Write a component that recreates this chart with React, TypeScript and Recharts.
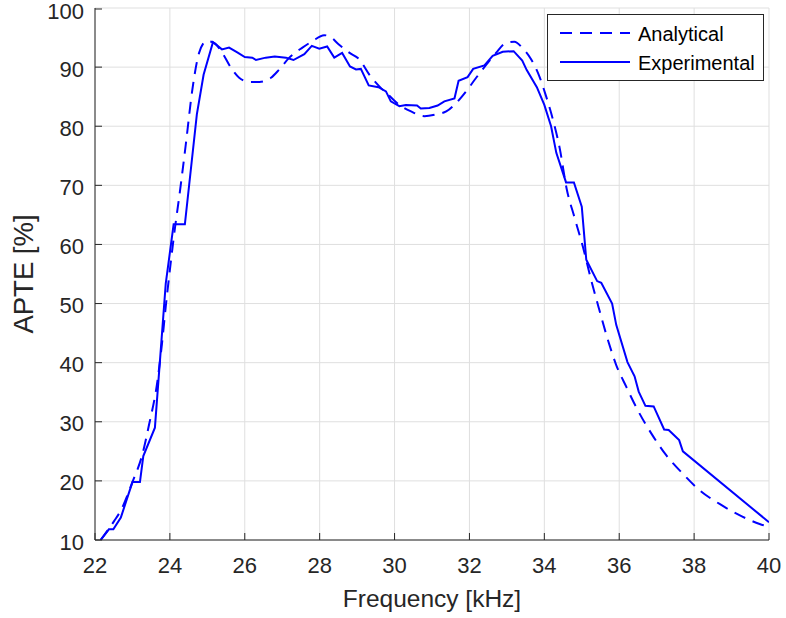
import React from 'react';
import {
  LineChart,
  Line,
  XAxis,
  YAxis,
  CartesianGrid,
  Legend,
} from 'recharts';

const xTicks = [22, 24, 26, 28, 30, 32, 34, 36, 38, 40];
const yTicks = [10, 20, 30, 40, 50, 60, 70, 80, 90, 100];

// analytical curve
const analyticalFreq = [
  22.15, 22.51, 22.69, 23.0, 23.27, 23.44, 23.67, 23.78, 23.89, 24.02, 24.14, 24.25,
  24.43, 24.6, 24.78, 24.98, 25.18, 25.4, 25.63, 25.85, 26.12, 26.39, 26.7, 26.92,
  27.19, 27.54, 27.81, 28.12, 28.26, 28.52, 28.8, 29.06, 29.33, 29.6, 29.87, 30.13,
  30.44, 30.8, 31.11, 31.38, 31.64, 31.91, 32.18, 32.45, 32.71, 32.98, 33.2, 33.42,
  33.65, 33.87, 34.05, 34.23, 34.41, 34.6, 34.8, 35.03, 35.25, 35.47, 35.7, 35.92,
  36.19, 36.5, 36.86, 37.26, 37.7, 38.15, 38.68, 39.21, 39.75, 40.0,
];
const analyticalApte = [
  10.0, 13.2, 15.0, 19.8, 24.6, 29.4, 37.0, 42.7, 49.5, 56.8, 63.0, 68.1,
  77.2, 86.2, 92.4, 94.4, 94.1, 92.4, 89.9, 88.2, 87.5, 87.5, 88.2, 89.6,
  91.6, 93.3, 94.4, 95.4, 95.2, 93.8, 92.4, 91.3, 88.7, 86.7, 85.1, 83.6,
  82.5, 81.7, 82.0, 82.5, 83.9, 85.9, 88.2, 90.4, 92.4, 94.1, 94.3, 93.2,
  91.3, 88.4, 85.0, 81.1, 76.3, 69.3, 64.7, 59.6, 54.0, 48.9, 43.8, 39.6,
  35.9, 31.9, 28.0, 24.3, 21.2, 18.4, 16.1, 14.2, 12.7, 12.2,
];

// measured curve
const experimentalFreq = [
  22.15, 22.37, 22.49, 22.69, 23.0, 23.2, 23.29, 23.6, 23.89, 24.1, 24.4, 24.72,
  24.9, 25.15, 25.39, 25.58, 25.8, 26.0, 26.2, 26.3, 26.56, 26.8, 27.1, 27.3,
  27.59, 27.79, 27.99, 28.2, 28.39, 28.6, 28.81, 28.97, 29.1, 29.31, 29.57, 29.77,
  29.9, 30.13, 30.3, 30.6, 30.7, 30.93, 31.15, 31.33, 31.6, 31.71, 31.95, 32.1,
  32.4, 32.62, 32.89, 33.18, 33.41, 33.53, 33.8, 34.0, 34.18, 34.32, 34.58, 34.79,
  35.0, 35.12, 35.41, 35.52, 35.81, 35.92, 36.22, 36.41, 36.52, 36.7, 36.92, 37.2,
  37.32, 37.6, 37.7, 40.0,
];
const experimentalApte = [
  10.0, 11.8, 11.8, 13.8, 19.8, 19.8, 24.2, 29.0, 53.4, 63.4, 63.4, 82.0,
  88.7, 94.2, 93.0, 93.3, 92.5, 91.7, 91.6, 91.2, 91.6, 91.8, 91.6, 91.2,
  92.2, 93.6, 93.1, 93.5, 91.6, 92.4, 90.1, 89.6, 89.7, 86.9, 86.6, 85.9,
  84.2, 83.4, 83.6, 83.5, 83.0, 83.1, 83.5, 84.2, 84.7, 87.7, 88.3, 89.7,
  90.3, 91.9, 92.6, 92.7, 91.1, 89.5, 86.6, 83.6, 80.0, 75.5, 70.5, 70.5,
  66.4, 57.4, 53.8, 53.5, 50.0, 46.4, 40.1, 37.7, 35.1, 32.7, 32.6, 28.7,
  28.6, 26.9, 25.0, 13.0,
];

const analyticalData = analyticalFreq.map((f, i) => ({ f, v: analyticalApte[i] }));
const experimentalData = experimentalFreq.map((f, i) => ({ f, v: experimentalApte[i] }));

const BLUE = '#0000ff';
const AXIS = '#262626';
const FONT = '"Liberation Sans", Arial, Helvetica, sans-serif';
const DASH = '12 8';

const BottomTick = ({ x, y, payload }: any) => (
  <g>
    <line x1={x} y1={y} x2={x} y2={y - 7} stroke={AXIS} />
    <text x={x} y={y + 33} textAnchor="middle" fontSize={22} fill={AXIS} fontFamily={FONT}>
      {payload.value}
    </text>
  </g>
);

const LeftTick = ({ x, y, payload }: any) => (
  <g>
    <line x1={x} y1={y} x2={x + 7} y2={y} stroke={AXIS} />
    <text x={x - 11} y={y + 9.5} textAnchor="end" fontSize={22} fill={AXIS} fontFamily={FONT}>
      {payload.value}
    </text>
  </g>
);

const TopTick = ({ x, y }: any) => <line x1={x} y1={y} x2={x} y2={y + 7} stroke={AXIS} />;
const RightTick = ({ x, y }: any) => <line x1={x} y1={y} x2={x - 7} y2={y} stroke={AXIS} />;

const LegendBox = () => (
  <svg width={217} height={67} style={{ display: 'block' }}>
    <rect x={0.5} y={0.5} width={216} height={66} fill="#fff" stroke={AXIS} />
    <line x1={13} y1={19} x2={83} y2={19} stroke={BLUE} strokeWidth={2} strokeDasharray={DASH} />
    <text x={91} y={27} fontSize={20} fill="#000" fontFamily={FONT}>Analytical</text>
    <line x1={13} y1={48} x2={83} y2={48} stroke={BLUE} strokeWidth={2} />
    <text x={91} y={56} fontSize={20} fill="#000" fontFamily={FONT}>Experimental</text>
  </svg>
);

export default function App() {
  return (
    <div style={{ position: 'absolute', left: 0, top: 0, background: '#fff' }}>
      <LineChart width={786} height={618} margin={{ top: 8, right: 17, left: 0, bottom: 0 }}>
        <CartesianGrid xAxisId="b" yAxisId="l" stroke="#dfdfdf" strokeWidth={1} />
        <XAxis
          xAxisId="b"
          dataKey="f"
          type="number"
          domain={[22, 40]}
          ticks={xTicks}
          allowDataOverflow
          height={78}
          tickSize={0}
          tickMargin={0}
          tickLine={false}
          axisLine={{ stroke: AXIS }}
          tick={<BottomTick />}
          label={{
            content: ({ viewBox }: any) => (
              <text
                x={viewBox.x + viewBox.width / 2}
                y={viewBox.y + 67}
                textAnchor="middle"
                fontSize={24.5}
                fill={AXIS}
                fontFamily={FONT}
              >
                Frequency [kHz]
              </text>
            ),
          }}
        />
        <XAxis
          xAxisId="t"
          orientation="top"
          dataKey="f"
          type="number"
          domain={[22, 40]}
          ticks={xTicks}
          allowDataOverflow
          height={0}
          tickSize={0}
          tickMargin={0}
          tickLine={false}
          axisLine={{ stroke: AXIS }}
          tick={<TopTick />}
        />
        <YAxis
          yAxisId="l"
          type="number"
          domain={[10, 100]}
          ticks={yTicks}
          allowDataOverflow
          width={95}
          tickSize={0}
          tickMargin={0}
          tickLine={false}
          axisLine={{ stroke: AXIS }}
          tick={<LeftTick />}
          label={{
            content: ({ viewBox }: any) => {
              const cy = viewBox.y + viewBox.height / 2;
              return (
                <text
                  x={33}
                  y={cy}
                  transform={`rotate(-90, 33, ${cy})`}
                  textAnchor="middle"
                  fontSize={27.5}
                  fill={AXIS}
                  fontFamily={FONT}
                >
                  APTE [%]
                </text>
              );
            },
          }}
        />
        <YAxis
          yAxisId="r"
          orientation="right"
          type="number"
          domain={[10, 100]}
          ticks={yTicks}
          allowDataOverflow
          width={0}
          tickSize={0}
          tickMargin={0}
          tickLine={false}
          axisLine={{ stroke: AXIS }}
          tick={<RightTick />}
        />
        <Legend
          layout="horizontal"
          verticalAlign="middle"
          align="center"
          content={<LegendBox />}
          wrapperStyle={{ position: 'absolute', left: 547, top: 14, width: 217, height: 67 }}
        />
        <Line
          xAxisId="b"
          yAxisId="l"
          data={analyticalData}
          dataKey="v"
          name="Analytical"
          type="monotone"
          stroke={BLUE}
          strokeWidth={2}
          strokeDasharray={DASH}
          dot={false}
          activeDot={false}
          isAnimationActive={false}
        />
        <Line
          xAxisId="b"
          yAxisId="l"
          data={experimentalData}
          dataKey="v"
          name="Experimental"
          type="linear"
          stroke={BLUE}
          strokeWidth={2}
          dot={false}
          activeDot={false}
          isAnimationActive={false}
        />
      </LineChart>
    </div>
  );
}
